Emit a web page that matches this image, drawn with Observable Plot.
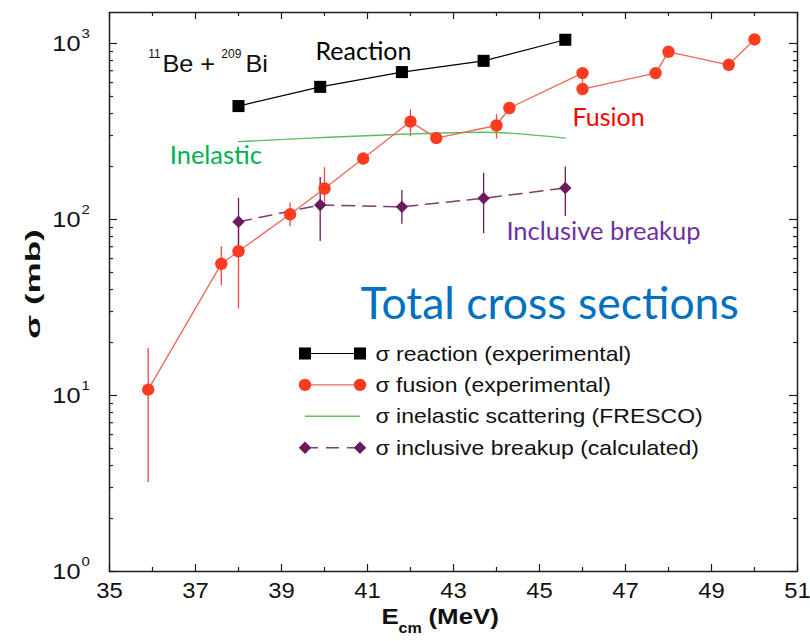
<!DOCTYPE html>
<html>
<head>
<meta charset="utf-8">
<script src="https://cdn.jsdelivr.net/npm/d3@7"></script>
<script src="https://cdn.jsdelivr.net/npm/@observablehq/plot@0.6"></script>
<style>
  body { margin: 0; background: #fff; }
  #chart { width: 810px; height: 641px; }
</style>
</head>
<body>
<div id="chart"></div>
<script>
// 11Be + 209Bi: total cross sections versus centre-of-mass energy

// Reaction cross section (experimental)
const reactionE = [38.0, 39.9, 41.8, 43.7, 45.6];
const reactionSigma = [441, 567, 688, 797, 1050];

// Fusion cross section (experimental), in measurement order; null = no error bar
const fusionE = [35.9, 37.6, 38.0, 39.2, 40.0, 40.9, 42.0, 42.6, 44.0, 44.3, 46.0, 46.0, 47.7, 48.0, 49.4, 50.0];
const fusionSigma = [10.8, 56, 66, 107, 150, 222, 360, 290, 342, 430, 679, 551, 679, 897, 757, 1054];
const fusionLow = [3.2, 42, 31, 91, 122, null, 295, null, 286, null, null, null, null, null, null, null];
const fusionHigh = [18.5, 70, 101, 124, 197, null, 420, null, 394, null, null, null, null, null, null, null];

// Inelastic scattering (FRESCO)
const inelasticE = [38.0, 39.9, 41.8, 43.7, 45.6];
const inelasticSigma = [277, 292, 305, 313, 290];

// Inclusive breakup (calculated)
const breakupE = [38.0, 39.9, 41.8, 43.7, 45.6];
const breakupSigma = [97, 121, 118, 132, 151];
const breakupLow = [62, 75, 94, 83, 104];
const breakupHigh = [132, 173, 146, 183, 199];

// Axis ticks
const xMajorTicks = [35, 37, 39, 41, 43, 45, 47, 49, 51];
const xMinorTicks = [36, 38, 40, 42, 44, 46, 48, 50];
const yExponents = [0, 1, 2, 3];
const yMinorMantissas = [2, 3, 4, 5, 6, 7, 8, 9];

// Legend entries
const legendLabels = [
  "σ reaction (experimental)",
  "σ fusion (experimental)",
  "σ inelastic scattering (FRESCO)",
  "σ inclusive breakup (calculated)"
];

// ---------------------------------------------------------------------------
const W = 810, H = 641;
const M = {top: 12, right: 13, bottom: 70, left: 109};
const innerW = W - M.left - M.right;
const innerH = H - M.top - M.bottom;
const HELV = "Liberation Sans, Arial, Helvetica, sans-serif";
const CAL = "Lato, Carlito, Calibri, sans-serif";

// horizontal widening of the Helvetica lettering, per text group
const widen = {
  "x tick labels": 1.06,
  "y tick labels": 1.15,
  "x title": 1.15,
  "y title": 1.75,
  "system": 1.1,
  "legend": 1.15
};

const C = {
  axis: "#1e1e1e",
  reaction: "#000000",
  fusionDot: "#ff3b1f",
  fusionLine: "#ec6659",
  fusionErr: "#ee4b3c",
  inelastic: "#5cbf5c",
  breakup: "#6b1a5b",
  breakupLine: "#7d3d70"
};

const rows = (E, S, lo, hi) => E.map((e, i) => ({e, s: S[i], lo: lo ? lo[i] : null, hi: hi ? hi[i] : null}));
const reaction = rows(reactionE, reactionSigma);
const fusion = rows(fusionE, fusionSigma, fusionLow, fusionHigh);
const inelastic = rows(inelasticE, inelasticSigma);
const breakup = rows(breakupE, breakupSigma, breakupLow, breakupHigh);

const yMajor = yExponents.map(k => 10 ** k);
const yMinor = yExponents.flatMap(k => yMinorMantissas.map(m => m * 10 ** k)).filter(v => v < 1500);

const tickStyle = {stroke: C.axis, strokeWidth: 1.2};
const helv = (group, size, extra = {}) => ({fontFamily: HELV, fontSize: size, fill: "#111", ariaDescription: group, ...extra});

const chart = Plot.plot({
  width: W,
  height: H,
  marginTop: M.top,
  marginRight: M.right,
  marginBottom: M.bottom,
  marginLeft: M.left,
  x: {domain: [35, 51], axis: null},
  y: {type: "log", domain: [1, 1500], axis: null},
  style: {background: "#fff", overflow: "visible"},
  marks: [
    // inward ticks on all four sides
    Plot.tickX(xMajorTicks, {x: d => d, insetTop: innerH - 7, ...tickStyle}),
    Plot.tickX(xMinorTicks, {x: d => d, insetTop: innerH - 4, ...tickStyle}),
    Plot.tickX(xMajorTicks, {x: d => d, insetBottom: innerH - 7, ...tickStyle}),
    Plot.tickX(xMinorTicks, {x: d => d, insetBottom: innerH - 4, ...tickStyle}),
    Plot.tickY(yMajor, {y: d => d, insetRight: innerW - 8, ...tickStyle}),
    Plot.tickY(yMinor, {y: d => d, insetRight: innerW - 4, ...tickStyle}),
    Plot.tickY(yMajor, {y: d => d, insetLeft: innerW - 8, ...tickStyle}),
    Plot.tickY(yMinor, {y: d => d, insetLeft: innerW - 4, ...tickStyle}),
    Plot.frame({stroke: C.axis, strokeWidth: 1.5}),

    // tick labels
    Plot.text(xMajorTicks, {x: d => d, frameAnchor: "bottom", dy: 11, lineAnchor: "top",
      text: d => String(d), ...helv("x tick labels", 22.5)}),
    Plot.text(yMajor, {y: d => d, frameAnchor: "left", dx: -29, textAnchor: "end", lineAnchor: "middle",
      text: () => "10", ...helv("y tick labels", 22)}),
    Plot.text(yExponents, {y: d => 10 ** d, frameAnchor: "left", dx: -28, dy: -10, textAnchor: "start",
      lineAnchor: "middle", text: d => String(d), ...helv("y tick labels", 13)}),

    // axis titles
    Plot.text(["E"], {frameAnchor: "bottom", dx: -72, dy: 52.5, textAnchor: "start", lineAnchor: "bottom",
      ...helv("x title", 22.5, {fontWeight: "bold"})}),
    Plot.text(["cm"], {frameAnchor: "bottom", dx: -55, dy: 61, textAnchor: "start", lineAnchor: "bottom",
      ...helv("x title", 14, {fontWeight: "bold"})}),
    Plot.text(["(MeV)"], {frameAnchor: "bottom", dx: -25, dy: 52.5, textAnchor: "start", lineAnchor: "bottom",
      ...helv("x title", 22.5, {fontWeight: "bold"})}),
    Plot.text(["σ (mb)"], {frameAnchor: "left", dx: -76, dy: -8, rotate: -90, textAnchor: "middle",
      lineAnchor: "middle", ...helv("y title", 20, {fontWeight: "bold"})}),

    // error bars
    Plot.ruleX(fusion.filter(d => d.lo != null), {x: "e", y1: "lo", y2: "hi", stroke: C.fusionErr, strokeWidth: 1.3}),
    Plot.ruleX(breakup, {x: "e", y1: "lo", y2: "hi", stroke: C.breakup, strokeWidth: 1.3}),

    // curves
    Plot.line(inelastic, {x: "e", y: "s", curve: "monotone-x", stroke: C.inelastic, strokeWidth: 1.4}),
    Plot.line(reaction, {x: "e", y: "s", stroke: C.reaction, strokeWidth: 1.2}),
    Plot.line(fusion, {x: "e", y: "s", stroke: C.fusionLine, strokeWidth: 1.3}),
    Plot.line(breakup, {x: "e", y: "s", stroke: C.breakupLine, strokeWidth: 1.5, strokeDasharray: "13,8"}),

    // points
    Plot.dot(breakup, {x: "e", y: "s", symbol: "diamond2", r: 5.6, fill: C.breakup}),
    Plot.dot(fusion, {x: "e", y: "s", r: 6.2, fill: C.fusionDot}),
    Plot.dot(reaction, {x: "e", y: "s", symbol: "square", r: 6.8, fill: C.reaction}),

    // system label
    Plot.text(["11"], {x: 35.9, y: 829, textAnchor: "start", lineAnchor: "bottom", ...helv("superscript", 12)}),
    Plot.text(["Be +"], {x: 36.23, y: 690, textAnchor: "start", lineAnchor: "bottom", ...helv("system", 23)}),
    Plot.text(["209"], {x: 37.6, y: 829, textAnchor: "start", lineAnchor: "bottom", ...helv("superscript", 12)}),
    Plot.text(["Bi"], {x: 38.16, y: 690, textAnchor: "start", lineAnchor: "bottom", ...helv("system", 23)}),

    // curve annotations
    Plot.text(["Reaction"], {x: 39.79, y: 808, textAnchor: "start", lineAnchor: "bottom", fontFamily: CAL, fontSize: 25, fill: "#000"}),
    Plot.text(["Fusion"], {x: 45.77, y: 341, textAnchor: "start", lineAnchor: "bottom", fontFamily: CAL, fontSize: 25, fill: "#ff0000"}),
    Plot.text(["Inelastic"], {x: 36.4, y: 208, textAnchor: "start", lineAnchor: "bottom", fontFamily: CAL, fontSize: 25.5, fill: "#00b050"}),
    Plot.text(["Inclusive breakup"], {x: 44.23, y: 76.4, textAnchor: "start", lineAnchor: "bottom", fontFamily: CAL, fontSize: 25.5, fill: "#7030a0"}),
    Plot.text(["Total cross sections"], {x: 40.84, y: 27.3, textAnchor: "start", lineAnchor: "bottom", fontFamily: CAL, fontSize: 44.5, fill: "#0070c0"})
  ]
});

document.getElementById("chart").appendChild(chart);
const svg = d3.select(chart);

// legend, drawn inside the plot frame
const legendStyles = [
  {stroke: C.reaction, width: 1.2, dash: null, symbol: d3.symbolSquare, r: 6.8, fill: C.reaction},
  {stroke: C.fusionLine, width: 1.3, dash: null, symbol: d3.symbolCircle, r: 6.2, fill: C.fusionDot},
  {stroke: C.inelastic, width: 1.4, dash: null, symbol: null},
  {stroke: C.breakupLine, width: 1.5, dash: "13,8", symbol: d3.symbolDiamond2, r: 5.6, fill: C.breakup}
];
const legend = svg.append("g")
  .attr("font-family", HELV).attr("font-size", 20).attr("fill", "#111")
  .attr("text-anchor", "start").attr("aria-description", "legend");
legendLabels.forEach((label, i) => {
  const st = legendStyles[i];
  const row = legend.append("g").attr("transform", `translate(0,${353.5 + i * 31.4})`);
  row.append("line").attr("x1", 305).attr("x2", 360).attr("stroke", st.stroke)
    .attr("stroke-width", st.width).attr("stroke-dasharray", st.dash);
  if (st.symbol) {
    const path = d3.symbol().type(st.symbol).size(Math.PI * st.r * st.r)();
    [305, 360].forEach(x => row.append("path").attr("d", path).attr("transform", `translate(${x},0)`).attr("fill", st.fill));
  }
  row.append("text").attr("transform", "translate(375.5,0)").attr("dy", "0.35em").text(label);
});

// widen the Helvetica lettering about each text's own anchor
svg.selectAll("g[aria-description]").each(function() {
  const k = widen[this.getAttribute("aria-description")];
  if (!k) return;
  d3.select(this).selectAll("text").each(function() {
    const t = this.getAttribute("transform") || "";
    this.setAttribute("transform", `${t} scale(${k},1)`);
  });
});
</script>
</body>
</html>
